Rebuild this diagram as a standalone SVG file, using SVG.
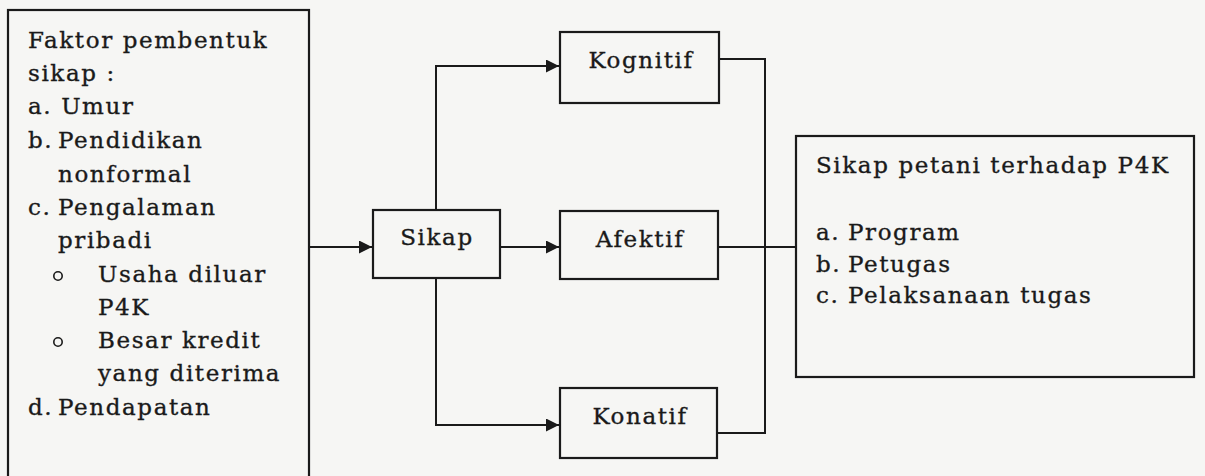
<svg xmlns="http://www.w3.org/2000/svg" width="1205" height="476" viewBox="0 0 1205 476">
<style>
.bg{fill:#f6f6f4}
.box{fill:none;stroke:#1a1a1a;stroke-width:2.2}
.ln{fill:none;stroke:#1a1a1a;stroke-width:2}
text{font-family:"DejaVu Serif","Liberation Serif",serif;font-size:23px;letter-spacing:1.6px;fill:#1a1a1a;stroke:#1a1a1a;stroke-width:0.35}
.c{text-anchor:middle}
</style>
<defs>
<marker id="ah" viewBox="0 0 12 12" refX="12" refY="6" markerWidth="13" markerHeight="13" markerUnits="userSpaceOnUse" orient="auto">
<path d="M0,0 L12,6 L0,12 Z" fill="#1a1a1a"/>
</marker>
</defs>
<rect class="bg" x="0" y="0" width="1205" height="476"/>
<g id="connectors">
<path class="ln" d="M309,247 H372" marker-end="url(#ah)"/>
<path class="ln" d="M500,247 H559" marker-end="url(#ah)"/>
<path class="ln" d="M436,210 V66 H559" marker-end="url(#ah)"/>
<path class="ln" d="M436,278 V425 H559" marker-end="url(#ah)"/>
<path class="ln" d="M719,59 H765 V433 H717"/>
<path class="ln" d="M718,247 H796"/>
</g>
<g id="faktor">
<rect class="box" x="8" y="10" width="301" height="480"/>
<text x="28" y="48">Faktor pembentuk</text>
<text x="28" y="81">sikap :</text>
<text x="28" y="114">a. Umur</text>
<text x="28" y="148">b.</text><text x="58" y="148">Pendidikan</text>
<text x="58" y="182">nonformal</text>
<text x="28" y="215">c.</text><text x="58" y="215">Pengalaman</text>
<text x="58" y="248">pribadi</text>
<circle cx="58" cy="276" r="4.2" fill="none" stroke="#1a1a1a" stroke-width="1.6"/>
<text x="98" y="282">Usaha diluar</text>
<text x="98" y="315">P4K</text>
<circle cx="58" cy="342" r="4.2" fill="none" stroke="#1a1a1a" stroke-width="1.6"/>
<text x="98" y="348">Besar kredit</text>
<text x="98" y="381">yang diterima</text>
<text x="28" y="415">d.</text><text x="58" y="415">Pendapatan</text>
</g>
<g id="sikap">
<rect class="box" x="373" y="210" width="127" height="68"/>
<text class="c" x="437" y="245">Sikap</text>
</g>
<g id="kognitif">
<rect class="box" x="560" y="32" width="159" height="71"/>
<text class="c" x="641" y="68">Kognitif</text>
</g>
<g id="afektif">
<rect class="box" x="560" y="211" width="158" height="68"/>
<text class="c" x="640" y="247">Afektif</text>
</g>
<g id="konatif">
<rect class="box" x="560" y="388" width="157" height="70"/>
<text class="c" x="640" y="424">Konatif</text>
</g>
<g id="sikap-petani">
<rect class="box" x="796" y="136" width="398" height="241"/>
<text x="816" y="173">Sikap petani terhadap P4K</text>
<text x="816" y="240">a.</text><text x="848" y="240">Program</text>
<text x="816" y="272">b.</text><text x="848" y="272">Petugas</text>
<text x="816" y="303">c.</text><text x="848" y="303">Pelaksanaan tugas</text>
</g>
</svg>
